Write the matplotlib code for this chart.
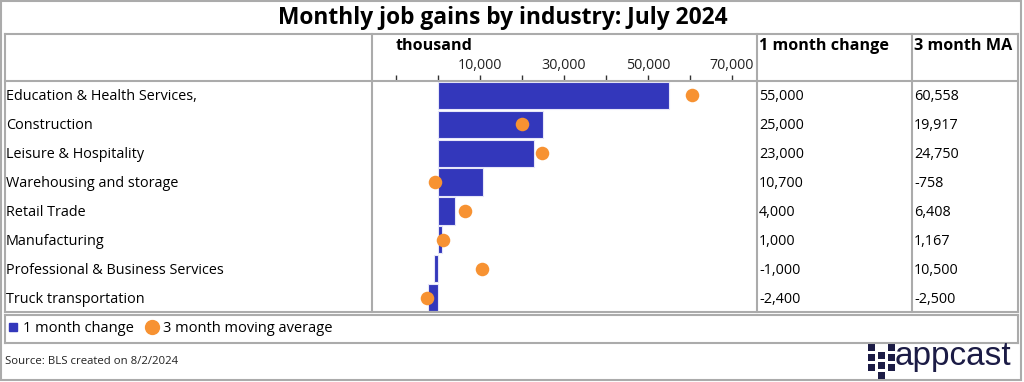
import matplotlib
matplotlib.use("Agg")
import matplotlib.pyplot as plt
from matplotlib.lines import Line2D
from matplotlib.patches import Rectangle
from matplotlib.ticker import FixedLocator, FuncFormatter

# ---- data ----
industries = [
    "Education & Health Services,",
    "Construction",
    "Leisure & Hospitality",
    "Warehousing and storage",
    "Retail Trade",
    "Manufacturing",
    "Professional & Business Services",
    "Truck transportation",
]
one_month = [55000, 25000, 23000, 10700, 4000, 1000, -1000, -2400]
three_month_ma = [60558, 19917, 24750, -758, 6408, 1167, 10500, -2500]
tick_values = [-10000, 0, 10000, 20000, 30000, 40000, 50000, 60000, 70000]
labeled_ticks = [10000, 30000, 50000, 70000]

title = "Monthly job gains by industry: July 2024"
col_headers = ["1 month change", "3 month MA"]
unit_label = "thousand"
legend_labels = ["1 month change", "3 month moving average"]
source_text = "Source: BLS created on 8/2/2024"

BAR_COLOR = "#3337BB"
DOT_COLOR = "#F79232"
LINE_COLOR = "#ABABAB"
FONT = ["Open Sans", "DejaVu Sans"]

W, H = 1024, 382
fig = plt.figure(figsize=(W / 100, H / 100), dpi=100)
plt.rcParams["font.family"] = FONT


def fx(x):
    return x / W


def fy(y):
    return 1 - y / H


def hline(x0, x1, y, lw=1.5):
    fig.add_artist(Line2D([fx(x0), fx(x1)], [fy(y), fy(y)], color=LINE_COLOR, lw=lw,
                          transform=fig.transFigure))


def vline(x, y0, y1, lw=1.5):
    fig.add_artist(Line2D([fx(x), fx(x)], [fy(y0), fy(y1)], color=LINE_COLOR, lw=lw,
                          transform=fig.transFigure))


# ---- frames ----
fig.add_artist(Rectangle((fx(1), fy(380)), fx(1020), (380 - 1) / H, fill=False,
                         ec=LINE_COLOR, lw=1.5, transform=fig.transFigure))
# table
hline(5, 1018, 34)
hline(5, 1018, 81)
hline(5, 1018, 312)
vline(5, 34, 312)
vline(1018, 34, 312)
vline(372, 34, 312)
vline(757, 34, 312)
vline(912, 34, 312)
# legend box
hline(5, 1018, 315)
hline(5, 1018, 343)
vline(5, 315, 343)
vline(1018, 315, 343)

# ---- title ----
fig.text(fx(503), fy(18), title, ha="center", va="center", fontsize=16.4,
         fontweight="bold", color="black")

# ---- chart axes ----
x0, x1, y0, y1 = 372, 757, 81, 312
ax = fig.add_axes([fx(x0), fy(y1), (x1 - x0) / W, (y1 - y0) / H])
n = len(industries)
ypos = list(range(n))
ax.barh(ypos, one_month, height=0.94, color=BAR_COLOR, edgecolor="#E6E6F8",
        linewidth=0.8, zorder=2)
ax.scatter(three_month_ma, ypos, s=95, color=DOT_COLOR, zorder=3, linewidths=0)
ax.set_ylim(n - 0.5, -0.5)
ax.set_xlim(-15700, 76000)
for s in ax.spines.values():
    s.set_visible(False)
ax.set_yticks([])
ax.xaxis.tick_top()
ax.xaxis.set_major_locator(FixedLocator(tick_values))
ax.xaxis.set_major_formatter(
    FuncFormatter(lambda v, p: f"{int(v):,}" if int(v) in labeled_ticks else ""))
ax.tick_params(axis="x", direction="out", length=4.5, width=1, color="#333333",
               labelsize=10.3, pad=1.5, labelcolor="#222222")
ax.patch.set_alpha(0)

# unit label
fig.text(fx(396), fy(46), unit_label, ha="left", va="center", fontsize=11.6,
         fontweight="bold")

# headers
fig.text(fx(759), fy(46), col_headers[0], ha="left", va="center", fontsize=11.6,
         fontweight="bold")
fig.text(fx(914), fy(46), col_headers[1], ha="left", va="center", fontsize=11.6,
         fontweight="bold")

# rows
row_h = (y1 - y0) / n
for i, name in enumerate(industries):
    yc = y0 + row_h * (i + 0.5) + 1.5
    fig.text(fx(6), fy(yc), name, ha="left", va="center", fontsize=10.4)
    fig.text(fx(759), fy(yc), f"{one_month[i]:,}", ha="left", va="center", fontsize=10.4)
    fig.text(fx(914), fy(yc), f"{three_month_ma[i]:,}", ha="left", va="center",
             fontsize=10.4)

# legend
handles = [
    Line2D([], [], marker="s", color=BAR_COLOR, ls="none", markersize=6),
    Line2D([], [], marker="o", color=DOT_COLOR, ls="none", markersize=10),
]
fig.legend(handles, legend_labels, loc="center left", bbox_to_anchor=(fx(8), fy(329)),
           ncol=2, frameon=False, fontsize=10.5, handlelength=0.7, handletextpad=0.35,
           columnspacing=0.9, borderaxespad=0, borderpad=0)

# source
fig.text(fx(5), fy(361), source_text, ha="left", va="center", fontsize=8.2,
         color="#222222")

# logo
LOGO = "#1B1B45"
sq = 6.5
for cx, ys in [(868, [344, 354, 364]), (878, [352, 362, 372]), (888, [344, 354, 364])]:
    for yy in ys:
        fig.add_artist(Rectangle((fx(cx), fy(yy + sq)), sq / W, sq / H, color=LOGO,
                                 transform=fig.transFigure, lw=0))
fig.text(fx(895), fy(357), "appcast", ha="left", va="center", fontsize=24,
         color=LOGO, family=["Liberation Sans", "DejaVu Sans"])

fig.savefig("out.png", dpi=100)
